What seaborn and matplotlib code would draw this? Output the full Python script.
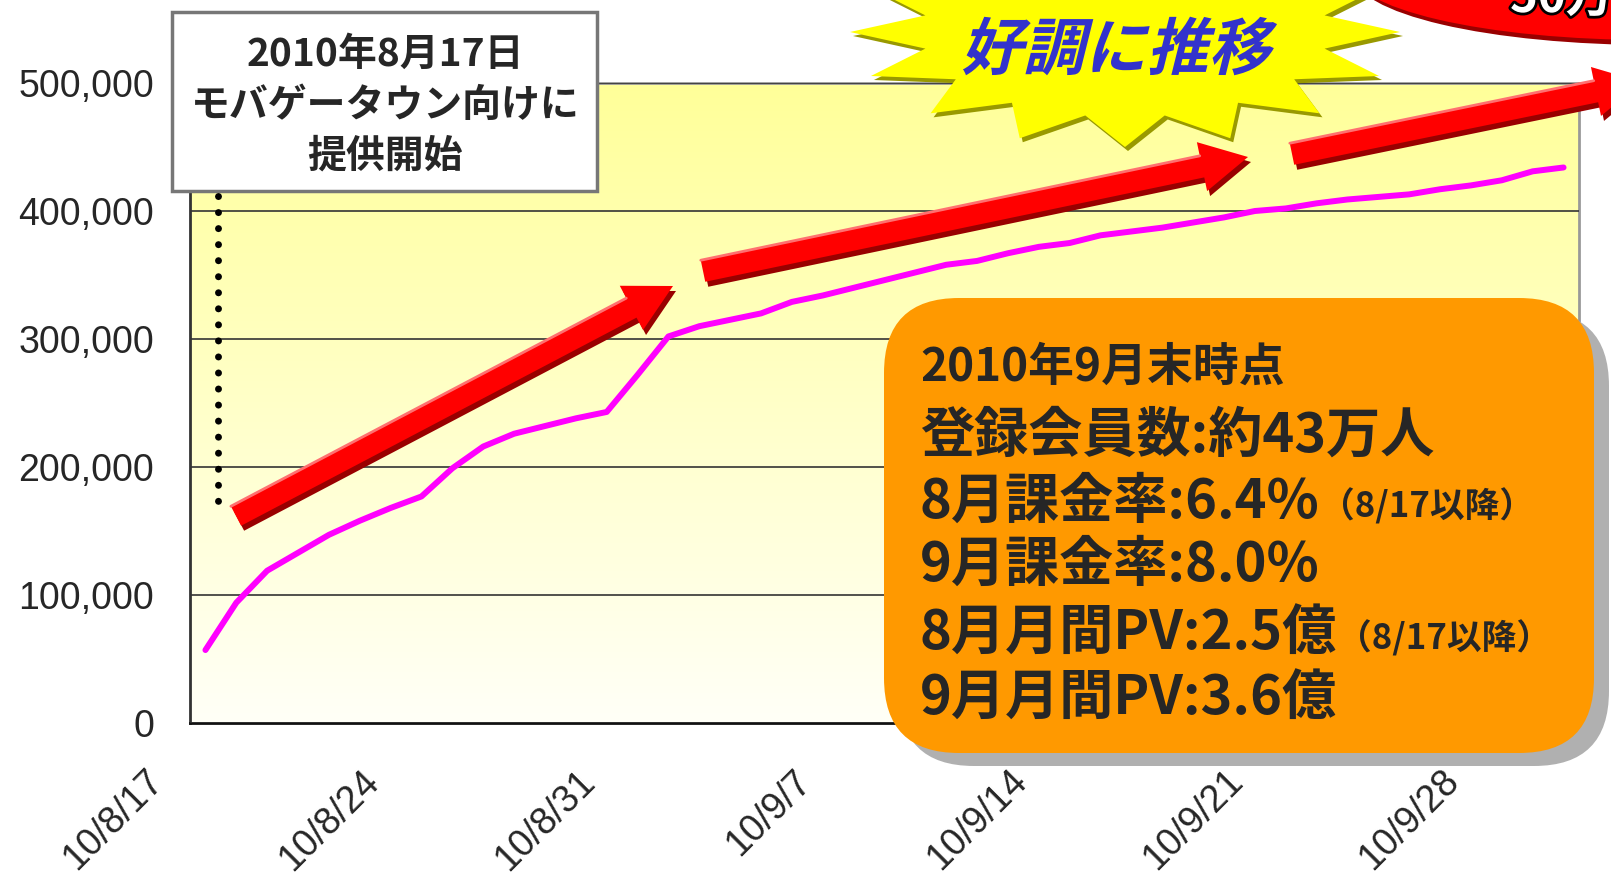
import numpy as np
import pandas as pd
import matplotlib
matplotlib.use("Agg")
import matplotlib.pyplot as plt
import seaborn as sns
import matplotlib.patheffects as pe
from matplotlib.patches import Polygon, Rectangle, FancyBboxPatch, Ellipse, PathPatch
from matplotlib.textpath import TextPath
from matplotlib.font_manager import FontProperties
from matplotlib.transforms import Affine2D, ScaledTranslation
from matplotlib.lines import Line2D

# data: registered members per day, 2010/8/17 - 2010/9/30
dates = pd.date_range("2010-08-17", "2010-09-30", freq="D")
members = [57000, 94000, 119000, 133000, 147000, 158000, 168000, 177000, 199000, 216000,
           226000, 232000, 238000, 243000, 272000, 302000, 310000, 315000, 320000, 329000,
           334000, 340000, 346000, 352000, 358000, 361000, 367000, 372000, 375000, 381000,
           384000, 387000, 391000, 395000, 400000, 402000, 406000, 409000, 411000, 413000,
           417000, 420000, 424000, 431000, 434000]
x_tick_labels = ["10/8/17", "10/8/24", "10/8/31", "10/9/7", "10/9/14", "10/9/21", "10/9/28"]
y_ticks = [0, 100000, 200000, 300000, 400000, 500000]
y_tick_labels = ["0", "100,000", "200,000", "300,000", "400,000", "500,000"]

launch_note = ["2010年8月17日", "モバゲータウン向けに", "提供開始"]
burst_text = "好調に推移"
summary_lines = ["2010年9月末時点", "登録会員数:約43万人", "8月課金率:6.4%", "9月課金率:8.0%",
                 "8月月間PV:2.5億", "9月月間PV:3.6億"]
summary_notes = [None, None, "（8/17以降）", None, "（8/17以降）", None]

df = pd.DataFrame({"date": dates, "members": members})
df["pos"] = np.arange(len(df)) + 0.5

sns.set_style("white")
plt.rcParams["font.family"] = ["Liberation Sans", "Noto Sans CJK JP"]
JP = ["Noto Sans CJK JP", "DejaVu Sans"]

W, H = 1611, 877
fig = plt.figure(figsize=(W / 100, H / 100), dpi=100)
ax = fig.add_axes([190 / W, 1 - 723 / H, (1579 - 190) / W, (723 - 83) / H])
# pixel coords with origin at top-left
pix = Affine2D().scale(1, -1).translate(0, H) + Affine2D().scale(1 / W, 1 / H) + fig.transFigure

# yellow gradient background
g = np.linspace(0, 1, 256).reshape(-1, 1)
top = np.array([1.0, 1.0, 0.60])
bot = np.array([1.0, 1.0, 0.97])
grad = top + (bot - top) * g[..., None]
ax.imshow(grad, extent=[0, len(df), 0, 500000], aspect="auto", zorder=0, origin="upper")

sns.lineplot(data=df, x="pos", y="members", color="#FF00FF", lw=4.3,
             solid_capstyle="round", ax=ax, zorder=3)

ax.set_xlim(0, len(df))
ax.set_ylim(0, 500000)
ax.set_xticks(np.arange(0, len(df), 7))
ax.set_xticklabels(x_tick_labels, rotation=45, ha="right", fontsize=27)
ax.set_yticks(y_ticks)
ax.set_yticklabels(y_tick_labels, fontsize=27)
ax.set_xlabel("")
ax.set_ylabel("")
ax.tick_params(axis="both", direction="in", length=9, width=1.2, color="#888888")
ax.tick_params(axis="y", pad=26)
ax.tick_params(axis="x", pad=29)
for lab in ax.get_xticklabels():
    lab.set_transform(lab.get_transform() + ScaledTranslation(-0.2, 0, fig.dpi_scale_trans))
ax.yaxis.grid(True, color="#333333", lw=1.2)
ax.set_axisbelow(False)
for s in ["top", "right"]:
    ax.spines[s].set_color("#999999")
    ax.spines[s].set_linewidth(2)
ax.spines["left"].set_color("#333333")
ax.spines["left"].set_linewidth(2)
ax.spines["bottom"].set_color("#111111")
ax.spines["bottom"].set_linewidth(2)


def arrow_pts(x0, y0, x1, y1, sw, hw, hl):
    p0 = np.array([x0, y0], float)
    tip = np.array([x1, y1], float)
    u = (tip - p0) / np.linalg.norm(tip - p0)
    n = np.array([-u[1], u[0]])
    b = tip - u * hl
    return [p0 + n * sw / 2, b + n * sw / 2, b + n * hw / 2, tip,
            b - n * hw / 2, b - n * sw / 2, p0 - n * sw / 2], p0 - n * sw / 2, b - n * sw / 2


def red_arrow(x0, y0, x1, y1):
    pts, a, b = arrow_pts(x0, y0, x1, y1, 22, 50, 47)
    shadow = [p + np.array([3, 5]) for p in pts]
    fig.patches.append(Polygon(shadow, closed=True, fc="#990000", ec="none", transform=pix))
    fig.patches.append(Polygon(pts, closed=True, fc="#FF0000", ec="none", transform=pix))
    fig.lines.append(Line2D([a[0], b[0]], [a[1], b[1]], color="#FF7070", lw=2, transform=pix))


# dotted launch line + note box
fig.lines.append(Line2D([218, 218], [196, 512], color="black", lw=5, ls=(0, (0.01, 2.3)),
                        dash_capstyle="round", transform=pix))
fig.patches.append(Rectangle((172, 12), 425, 179, fc="white", ec="#777777", lw=2.5, transform=pix))
for txt, yy in zip(launch_note, [54, 105, 156]):
    fig.text(385, yy, txt, transform=pix, ha="center", va="center", fontsize=28,
             fontweight="bold", family=JP)

red_arrow(236, 516, 673, 286)
red_arrow(703, 271, 1248, 157)
red_arrow(1292, 154, 1642, 82)

# red ellipse (top right, mostly off canvas)
fig.patches.append(Ellipse((1654, -25), 600, 140, fc="#990000", ec="none", transform=pix))
fig.patches.append(Ellipse((1650, -30), 600, 140, fc="#FF0000", ec="none", transform=pix))
fig.text(1510, 12, "50万人", transform=pix, ha="left", va="baseline", fontsize=34,
         fontweight="bold", family=JP, color="white",
         path_effects=[pe.Stroke(linewidth=4, foreground="black"), pe.Normal()])

# starburst
cx, cy, rx, ry = 1125, 32, 275, 115
ang = np.linspace(0, 2 * np.pi, 32, endpoint=False) + np.pi
rr = np.where(np.arange(32) % 2 == 0, 1.0, 0.74)
star = np.column_stack([cx + rx * rr * np.cos(ang), cy + ry * rr * np.sin(ang)])
fig.patches.append(Polygon(star + np.array([3, 4]), closed=True, fc="#999900", ec="none", transform=pix))
fig.patches.append(Polygon(star, closed=True, fc="#FFFF00", ec="none", transform=pix))

tp = TextPath((0, 0), burst_text, size=62, prop=FontProperties(family="Noto Sans CJK JP", weight="bold"))
skewed = Affine2D().skew_deg(14, 0).transform_path(tp)
ext = skewed.get_extents()
place = Affine2D().translate(-(ext.x0 + ext.x1) / 2, -(ext.y0 + ext.y1) / 2).scale(1, -1).translate(1120, 46)
fig.patches.append(PathPatch(place.transform_path(skewed), fc="#3333CC", ec="none", transform=pix))

# orange summary box
fig.patches.append(FancyBboxPatch((899, 311), 710, 455, boxstyle="round,pad=0,rounding_size=75",
                                  fc="#B0B0B0", ec="none", transform=pix))
fig.patches.append(FancyBboxPatch((884, 298), 710, 455, boxstyle="round,pad=0,rounding_size=75",
                                  fc="#FF9900", ec="none", transform=pix))
baselines = [381, 452, 518, 581, 650, 715]
sizes = [33, 39, 39, 39, 39, 39]
renderer = fig.canvas.get_renderer()
for txt, note, yb, fs in zip(summary_lines, summary_notes, baselines, sizes):
    t = fig.text(920, yb, txt, transform=pix, ha="left", va="baseline", fontsize=fs,
                 fontweight="bold", family=JP)
    if note:
        bb = t.get_window_extent(renderer)
        fig.text(bb.x1 / W, yb, note, transform=Affine2D().scale(1, -1).translate(0, H)
                 + Affine2D().scale(1, 1 / H) + fig.transFigure,
                 ha="left", va="baseline", fontsize=25, fontweight="bold", family=JP)

fig.savefig("out.png", dpi=100)
